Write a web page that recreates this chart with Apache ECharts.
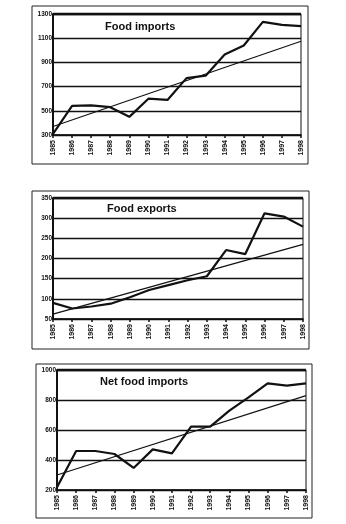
<!DOCTYPE html>
<html>
<head>
<meta charset="utf-8">
<script src="https://cdn.jsdelivr.net/npm/echarts@6/dist/echarts.min.js"></script>
<style>
html,body{margin:0;padding:0;background:#fff;}
#c{width:346px;height:524px;}
</style>
</head>
<body>
<div id="c"></div>
<script>
var years = ['1985','1986','1987','1988','1989','1990','1991','1992','1993','1994','1995','1996','1997','1998'];
var foodImports = [310, 540, 545, 530, 450, 600, 590, 770, 790, 965, 1040, 1235, 1210, 1200];
var foodExports = [90, 76, 81, 88, 104, 122, 134, 146, 156, 221, 211, 312, 304, 279];
var netImports = [218, 460, 460, 440, 347, 471, 444, 622, 622, 729, 818, 911, 896, 911];
var trendImports = [370, 1075];
var trendExports = [62, 235];
var trendNet = [300, 829];
var titles = ['Food imports', 'Food exports', 'Net food imports'];
var yMin = [300, 50, 200];
var yMax = [1300, 350, 1000];
var yStep = [200, 50, 200];

var panels = [
  {grid:{left:53, top:14, width:248, height:121}, box:{x:32, y:6, w:276, h:158}, title:{x:105, y:27}},
  {grid:{left:53, top:198, width:250, height:121}, box:{x:32, y:191, w:277, h:158}, title:{x:107, y:209}},
  {grid:{left:57, top:370, width:249, height:120}, box:{x:36, y:364, w:276, h:154}, title:{x:100, y:382}}
];
var mainData = [foodImports, foodExports, netImports];
var trendData = [trendImports, trendExports, trendNet];

var option = {
  animation:false,
  backgroundColor:'#fff',
  grid:[], xAxis:[], yAxis:[], series:[], graphic:[]
};
var font = 'Liberation Sans, Arial, sans-serif';
panels.forEach(function(p, i){
  option.grid.push({left:p.grid.left, top:p.grid.top, width:p.grid.width, height:p.grid.height,
    show:true, borderColor:'#111', borderWidth:1, backgroundColor:'transparent'});
  option.xAxis.push({type:'category', gridIndex:i, data:years, boundaryGap:false,
    axisLine:{lineStyle:{color:'#111', width:1.5}},
    axisTick:{show:true, interval:0, length:3, inside:false, lineStyle:{color:'#111', width:1.5}},
    axisLabel:{interval:0, rotate:90, color:'#111', fontSize:7, fontWeight:'bold', fontFamily:font, margin:5},
    splitLine:{show:false}});
  option.yAxis.push({type:'value', gridIndex:i, min:yMin[i], max:yMax[i], interval:yStep[i],
    axisLine:{show:true, lineStyle:{color:'#111', width:2}},
    axisTick:{show:false},
    axisLabel:{color:'#111', fontSize:6.5, fontWeight:'bold', fontFamily:font, margin:1,
      formatter:function(v){ return String(v); }},
    splitLine:{show:true, lineStyle:{color:'#111', width:1.3}}});
  option.series.push({type:'line', xAxisIndex:i, yAxisIndex:i, data:mainData[i], symbol:'none',
    lineStyle:{color:'#111', width:2.2}, z:5});
  option.series.push({type:'line', xAxisIndex:i, yAxisIndex:i,
    data:[[years[0], trendData[i][0]], [years[years.length-1], trendData[i][1]]],
    symbol:'none', lineStyle:{color:'#111', width:1.2}, z:4});
  option.graphic.push({type:'rect', shape:{x:p.box.x, y:p.box.y, width:p.box.w, height:p.box.h},
    style:{fill:'none', stroke:'#222', lineWidth:1}, z:-1, silent:true});
  option.graphic.push({type:'line', shape:{x1:p.grid.left, y1:p.grid.top, x2:p.grid.left+p.grid.width, y2:p.grid.top},
    style:{stroke:'#111', lineWidth:2.5}, z:10, silent:true});
  option.graphic.push({type:'text', x:p.title.x, y:p.title.y,
    style:{text:titles[i], fill:'#111', font:'bold 11px Liberation Sans, Arial, sans-serif', textVerticalAlign:'middle'}, z:10});
});
var chart = echarts.init(document.getElementById('c'), null, {renderer:'canvas'});
chart.setOption(option);
</script>
</body>
</html>
